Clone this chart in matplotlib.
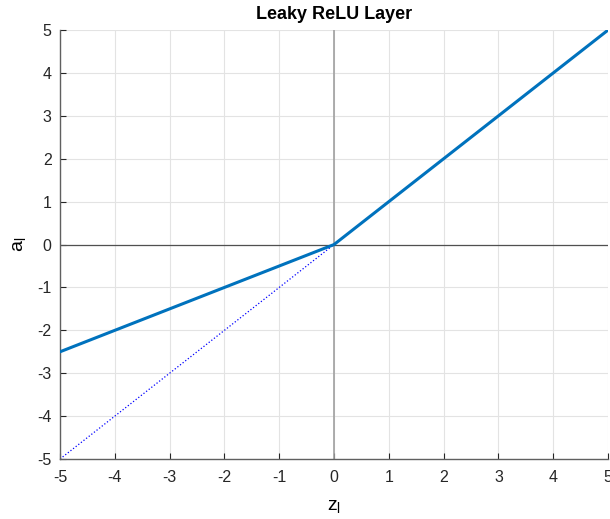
import numpy as np
import matplotlib
matplotlib.use('Agg')
import matplotlib.pyplot as plt

plt.rcParams['font.family'] = ['Liberation Sans', 'DejaVu Sans']
plt.rcParams['axes.unicode_minus'] = False
plt.rcParams['mathtext.fontset'] = 'custom'
plt.rcParams['mathtext.rm'] = 'Liberation Sans'

# leaky relu: slope 1 for z >= 0, 0.5 below
z_vals = [-5, 0, 5]
a_vals = [-2.5, 0, 5]
# plain identity on the negative side, for reference
ref_z = [-5, 0]
ref_a = [-5, 0]
ticks = [-5, -4, -3, -2, -1, 0, 1, 2, 3, 4, 5]

fig = plt.figure(figsize=(6.1, 5.19), dpi=100)
ax = fig.add_axes([0.0984, 0.1156, 0.8983, 0.8264])

ax.grid(True, color='#e3e3e3', linewidth=0.8)
ax.set_axisbelow(True)
ax.axvline(0, color='#a0a0a0', linewidth=1.2, zorder=1)
ax.axhline(0, color='#505050', linewidth=0.9, zorder=1)

ax.plot(ref_z, ref_a, color='blue', linestyle=':', linewidth=0.9, zorder=2)
ax.plot(z_vals, a_vals, color='#0072BD', linewidth=2.2, zorder=3)

ax.set_xlim(-5, 5)
ax.set_ylim(-5, 5)
ax.set_xticks(ticks)
ax.set_yticks(ticks)
ax.tick_params(direction='in', length=4, width=0.8, colors='#262626',
               labelsize=11.5)
ax.tick_params(axis='x', pad=8)
ax.tick_params(axis='y', pad=6)
for s in ['top', 'right']:
    ax.spines[s].set_visible(False)
for s in ['left', 'bottom']:
    ax.spines[s].set_color('#606060')
    ax.spines[s].set_linewidth(1.0)

ax.set_title('Leaky ReLU Layer', fontweight='bold', fontsize=13, pad=8)
ax.set_xlabel('$\\mathregular{z_l}$', fontsize=14, labelpad=9)
ax.set_ylabel('$\\mathregular{a_l}$', fontsize=14, labelpad=7)

fig.savefig('out.png', dpi=100)
